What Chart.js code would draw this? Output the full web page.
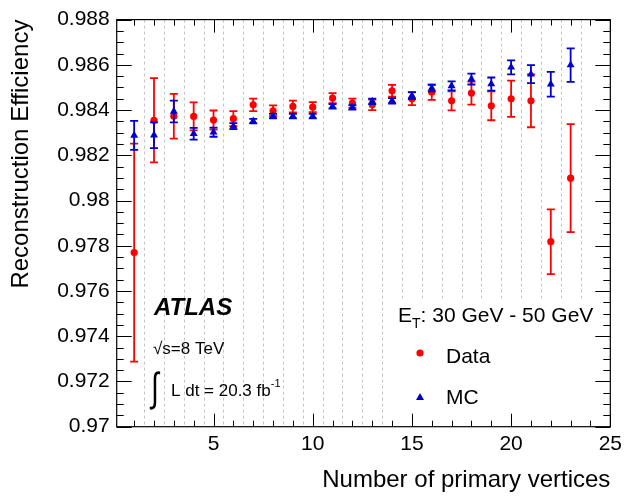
<!DOCTYPE html>
<html>
<head>
<meta charset="utf-8">
<script src="https://cdn.jsdelivr.net/npm/chart.js@4.4.1/dist/chart.umd.min.js"></script>
<style>
  body { margin: 0; background: #fff; }
  #wrap { width: 627px; height: 497px; }
</style>
</head>
<body>
<div id="wrap"><canvas id="effChart"></canvas></div>
<script>
const nVertices = [1, 2, 3, 4, 5, 6, 7, 8, 9, 10, 11, 12, 13, 14, 15, 16, 17, 18, 19, 20, 21, 22, 23];

const dataEff = [0.97770, 0.98355, 0.98373, 0.98372, 0.98356, 0.98362, 0.98423, 0.98397, 0.98416, 0.98413, 0.98453, 0.98431,
                 0.98423, 0.98485, 0.98450, 0.98479, 0.98441, 0.98475, 0.98419, 0.98450, 0.98441, 0.97818, 0.98099];
const dataErr = [0.00482, 0.00186, 0.00099, 0.00062, 0.00042, 0.00033, 0.00028, 0.00024, 0.00026, 0.00022, 0.00022, 0.00020,
                 0.00023, 0.00026, 0.00028, 0.00034, 0.00042, 0.00051, 0.00064, 0.00080, 0.00117, 0.00143, 0.00239];

const mcEff = [0.98288, 0.98289, 0.98394, 0.98295, 0.98302, 0.98329, 0.98351, 0.98373, 0.98373, 0.98373, 0.98416, 0.98412,
               0.98438, 0.98441, 0.98464, 0.98497, 0.98507, 0.98537, 0.98515, 0.98589, 0.98559, 0.98514, 0.98599];
const mcErr = [0.00064, 0.00057, 0.00048, 0.00026, 0.00020, 0.00013, 0.00010, 0.00010, 0.00010, 0.00010, 0.00010, 0.00010,
               0.00012, 0.00012, 0.00015, 0.00014, 0.00020, 0.00024, 0.00029, 0.00031, 0.00040, 0.00055, 0.00074];

const xTicks = [5, 10, 15, 20, 25];
const yTicks = [0.970, 0.972, 0.974, 0.976, 0.978, 0.980, 0.982, 0.984, 0.986, 0.988];

const FONT = "'Liberation Sans', Arial, Helvetica, sans-serif";
const RED = '#ff0000';
const BLUE = '#0000cc';

function toPoints(ys) {
  return nVertices.map((n, i) => ({ x: n, y: ys[i] }));
}

// ROOT look: dotted bin edges, error bars, inner ticks, labels
const rootStyle = {
  id: 'rootStyle',
  beforeDatasetsDraw(chart) {
    const { ctx, chartArea: a, scales: { x } } = chart;
    ctx.save();
    ctx.strokeStyle = '#c4c4c4';
    ctx.lineWidth = 1;
    ctx.setLineDash([3, 3]);
    nVertices.forEach(n => {
      const px = Math.round(x.getPixelForValue(n + 0.5)) + 0.5;
      ctx.beginPath();
      ctx.moveTo(px, a.top);
      ctx.lineTo(px, a.bottom);
      ctx.stroke();
    });
    ctx.setLineDash([]);
    // legend pad hides the grid
    ctx.fillStyle = '#fff';
    ctx.fillRect(a.right - 224, a.top + 279, 224, a.bottom - a.top - 279);
    ctx.restore();
  },
  beforeDatasetDraw(chart, args) {
    const ds = chart.data.datasets[args.index];
    if (!ds.errors) return;
    const { ctx, scales: { x, y } } = chart;
    ctx.save();
    ctx.strokeStyle = ds.borderColor;
    ctx.lineWidth = 1.8;
    ds.data.forEach((p, i) => {
      const e = ds.errors[i];
      const px = x.getPixelForValue(p.x);
      const top = y.getPixelForValue(p.y + e);
      const bot = y.getPixelForValue(p.y - e);
      ctx.beginPath();
      ctx.moveTo(px, top); ctx.lineTo(px, bot);
      ctx.moveTo(px - 4, top); ctx.lineTo(px + 4, top);
      ctx.moveTo(px - 4, bot); ctx.lineTo(px + 4, bot);
      ctx.stroke();
    });
    ctx.restore();
  },
  afterDraw(chart) {
    const { ctx, chartArea: a, scales: { x, y } } = chart;
    ctx.save();
    ctx.strokeStyle = '#000';
    ctx.lineWidth = 1.2;
    ctx.strokeRect(a.left, a.top, a.right - a.left, a.bottom - a.top);

    ctx.lineWidth = 1;
    ctx.beginPath();
    for (let v = 1; v <= 25; v++) {
      const px = Math.round(x.getPixelForValue(v)) + 0.5;
      const len = v % 5 === 0 ? 13 : 6;
      ctx.moveTo(px, a.bottom); ctx.lineTo(px, a.bottom - len);
      ctx.moveTo(px, a.top); ctx.lineTo(px, a.top + len);
    }
    for (let k = 0; k <= 36; k++) {
      const py = Math.round(y.getPixelForValue(0.970 + k * 0.0005)) + 0.5;
      const len = k % 4 === 0 ? 15 : 7;
      ctx.moveTo(a.left, py); ctx.lineTo(a.left + len, py);
      ctx.moveTo(a.right, py); ctx.lineTo(a.right - len, py);
    }
    ctx.stroke();

    ctx.fillStyle = '#000';
    ctx.textBaseline = 'alphabetic';
    ctx.textAlign = 'left';

    ctx.font = 'italic bold 24px ' + FONT;
    ctx.fillText('ATLAS', 154, 315);

    ctx.font = '17px ' + FONT;
    ctx.fillText('\u221As=8 TeV', 153, 354);

    // integral sign, stretched
    ctx.save();
    ctx.translate(151, 401);
    ctx.scale(1, 1.45);
    ctx.font = '28px ' + FONT;
    ctx.fillText('\u222B', 0, 0);
    ctx.restore();
    ctx.font = '17px ' + FONT;
    const lumi = 'L dt = 20.3 fb';
    ctx.fillText(lumi, 171, 396);
    const lw = ctx.measureText(lumi).width;
    ctx.font = '11px ' + FONT;
    ctx.fillText('-1', 171 + lw, 387);

    // legend
    ctx.font = '21px ' + FONT;
    ctx.fillText('E', 398, 322);
    let ex = 398 + ctx.measureText('E').width;
    ctx.font = '14px ' + FONT;
    ctx.fillText('T', ex, 328);
    ex += ctx.measureText('T').width;
    ctx.font = '21px ' + FONT;
    ctx.fillText(': 30 GeV - 50 GeV', ex, 322);

    ctx.fillText('Data', 446, 363);
    ctx.fillText('MC', 446, 404);

    ctx.fillStyle = RED;
    ctx.beginPath();
    ctx.arc(420, 353, 3.6, 0, Math.PI * 2);
    ctx.fill();

    ctx.fillStyle = BLUE;
    ctx.beginPath();
    ctx.moveTo(420, 393);
    ctx.lineTo(424, 400);
    ctx.lineTo(416, 400);
    ctx.closePath();
    ctx.fill();
    ctx.restore();
  }
};

new Chart(document.getElementById('effChart'), {
  type: 'scatter',
  data: {
    datasets: [
      {
        label: 'Data',
        data: toPoints(dataEff),
        errors: dataErr,
        order: 1,
        pointStyle: 'circle',
        pointRadius: 3.6,
        backgroundColor: RED,
        borderColor: RED,
        borderWidth: 0
      },
      {
        label: 'MC',
        data: toPoints(mcEff),
        errors: mcErr,
        order: 0,
        pointStyle: 'triangle',
        pointRadius: 4.6,
        backgroundColor: BLUE,
        borderColor: BLUE,
        borderWidth: 0
      }
    ]
  },
  options: {
    responsive: true,
    maintainAspectRatio: false,
    animation: false,
    layout: { padding: { top: 15.7, right: 13, left: 0, bottom: 0 } },
    plugins: {
      legend: { display: false },
      tooltip: { enabled: false }
    },
    scales: {
      x: {
        type: 'linear',
        min: 0.12,
        max: 25,
        afterBuildTicks: s => { s.ticks = xTicks.map(v => ({ value: v })); },
        afterFit: s => { s.height = 70.3; },
        grid: { display: false, drawTicks: false },
        border: { display: false },
        ticks: {
          font: { family: FONT, size: 21 },
          color: '#000',
          padding: 5,
          maxRotation: 0,
          autoSkip: false
        },
        title: {
          display: true,
          text: 'Number of primary vertices',
          align: 'end',
          color: '#000',
          font: { family: FONT, size: 24 },
          padding: { top: 0, bottom: 2 }
        }
      },
      y: {
        min: 0.970,
        max: 0.988,
        afterBuildTicks: s => { s.ticks = yTicks.map(v => ({ value: v })); },
        afterFit: s => { s.width = 116.7; },
        grid: { display: false, drawTicks: false },
        border: { display: false },
        ticks: {
          font: { family: FONT, size: 21 },
          color: '#000',
          padding: 7,
          autoSkip: false,
          callback: v => String(+v.toFixed(3))
        },
        title: {
          display: true,
          text: 'Reconstruction Efficiency',
          align: 'end',
          color: '#000',
          font: { family: FONT, size: 24 },
          padding: { top: 7, bottom: 0 }
        }
      }
    }
  },
  plugins: [rootStyle]
});
</script>
</body>
</html>
